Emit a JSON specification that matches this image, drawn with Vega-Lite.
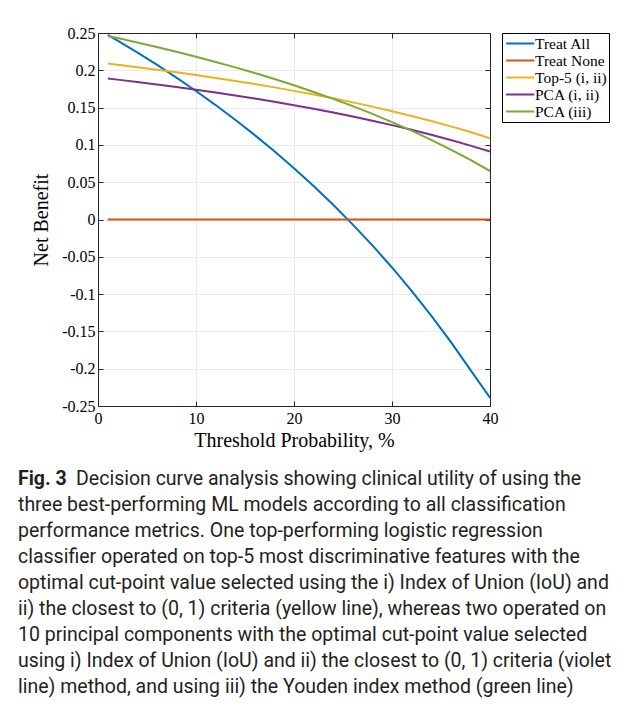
{
  "$schema": "https://vega.github.io/schema/vega-lite/v6.json",
  "width": 392,
  "height": 373,
  "autosize": {"type": "none"},
  "padding": {"left": 98, "top": 33, "right": 139, "bottom": 300},
  "background": "white",
  "data": {"values": [
    {"t": 1, "nb": 0.2475, "s": "Treat All"},
    {"t": 2, "nb": 0.2398, "s": "Treat All"},
    {"t": 4, "nb": 0.2240, "s": "Treat All"},
    {"t": 6, "nb": 0.2075, "s": "Treat All"},
    {"t": 8, "nb": 0.1902, "s": "Treat All"},
    {"t": 10, "nb": 0.1722, "s": "Treat All"},
    {"t": 12, "nb": 0.1534, "s": "Treat All"},
    {"t": 14, "nb": 0.1337, "s": "Treat All"},
    {"t": 16, "nb": 0.1131, "s": "Treat All"},
    {"t": 18, "nb": 0.0915, "s": "Treat All"},
    {"t": 20, "nb": 0.0688, "s": "Treat All"},
    {"t": 22, "nb": 0.0449, "s": "Treat All"},
    {"t": 24, "nb": 0.0197, "s": "Treat All"},
    {"t": 26, "nb": -0.0068, "s": "Treat All"},
    {"t": 28, "nb": -0.0347, "s": "Treat All"},
    {"t": 30, "nb": -0.0643, "s": "Treat All"},
    {"t": 32, "nb": -0.0956, "s": "Treat All"},
    {"t": 34, "nb": -0.1288, "s": "Treat All"},
    {"t": 36, "nb": -0.1641, "s": "Treat All"},
    {"t": 38, "nb": -0.2016, "s": "Treat All"},
    {"t": 40, "nb": -0.2390, "s": "Treat All"},
    {"t": 1, "nb": 0, "s": "Treat None"},
    {"t": 40, "nb": 0, "s": "Treat None"},
    {"t": 1, "nb": 0.2090, "s": "Top-5 (i, ii)"},
    {"t": 2, "nb": 0.2074, "s": "Top-5 (i, ii)"},
    {"t": 4, "nb": 0.2042, "s": "Top-5 (i, ii)"},
    {"t": 6, "nb": 0.2008, "s": "Top-5 (i, ii)"},
    {"t": 8, "nb": 0.1973, "s": "Top-5 (i, ii)"},
    {"t": 10, "nb": 0.1936, "s": "Top-5 (i, ii)"},
    {"t": 12, "nb": 0.1897, "s": "Top-5 (i, ii)"},
    {"t": 14, "nb": 0.1857, "s": "Top-5 (i, ii)"},
    {"t": 16, "nb": 0.1815, "s": "Top-5 (i, ii)"},
    {"t": 18, "nb": 0.1771, "s": "Top-5 (i, ii)"},
    {"t": 20, "nb": 0.1724, "s": "Top-5 (i, ii)"},
    {"t": 22, "nb": 0.1675, "s": "Top-5 (i, ii)"},
    {"t": 24, "nb": 0.1624, "s": "Top-5 (i, ii)"},
    {"t": 26, "nb": 0.1570, "s": "Top-5 (i, ii)"},
    {"t": 28, "nb": 0.1513, "s": "Top-5 (i, ii)"},
    {"t": 30, "nb": 0.1452, "s": "Top-5 (i, ii)"},
    {"t": 32, "nb": 0.1388, "s": "Top-5 (i, ii)"},
    {"t": 34, "nb": 0.1320, "s": "Top-5 (i, ii)"},
    {"t": 36, "nb": 0.1248, "s": "Top-5 (i, ii)"},
    {"t": 38, "nb": 0.1172, "s": "Top-5 (i, ii)"},
    {"t": 40, "nb": 0.1090, "s": "Top-5 (i, ii)"},
    {"t": 1, "nb": 0.1890, "s": "PCA (i, ii)"},
    {"t": 2, "nb": 0.1875, "s": "PCA (i, ii)"},
    {"t": 4, "nb": 0.1843, "s": "PCA (i, ii)"},
    {"t": 6, "nb": 0.1810, "s": "PCA (i, ii)"},
    {"t": 8, "nb": 0.1775, "s": "PCA (i, ii)"},
    {"t": 10, "nb": 0.1739, "s": "PCA (i, ii)"},
    {"t": 12, "nb": 0.1701, "s": "PCA (i, ii)"},
    {"t": 14, "nb": 0.1662, "s": "PCA (i, ii)"},
    {"t": 16, "nb": 0.1621, "s": "PCA (i, ii)"},
    {"t": 18, "nb": 0.1577, "s": "PCA (i, ii)"},
    {"t": 20, "nb": 0.1532, "s": "PCA (i, ii)"},
    {"t": 22, "nb": 0.1484, "s": "PCA (i, ii)"},
    {"t": 24, "nb": 0.1434, "s": "PCA (i, ii)"},
    {"t": 26, "nb": 0.1380, "s": "PCA (i, ii)"},
    {"t": 28, "nb": 0.1324, "s": "PCA (i, ii)"},
    {"t": 30, "nb": 0.1265, "s": "PCA (i, ii)"},
    {"t": 32, "nb": 0.1202, "s": "PCA (i, ii)"},
    {"t": 34, "nb": 0.1136, "s": "PCA (i, ii)"},
    {"t": 36, "nb": 0.1065, "s": "PCA (i, ii)"},
    {"t": 38, "nb": 0.0990, "s": "PCA (i, ii)"},
    {"t": 40, "nb": 0.0910, "s": "PCA (i, ii)"},
    {"t": 1, "nb": 0.2460, "s": "PCA (iii)"},
    {"t": 2, "nb": 0.2432, "s": "PCA (iii)"},
    {"t": 4, "nb": 0.2373, "s": "PCA (iii)"},
    {"t": 6, "nb": 0.2312, "s": "PCA (iii)"},
    {"t": 8, "nb": 0.2248, "s": "PCA (iii)"},
    {"t": 10, "nb": 0.2182, "s": "PCA (iii)"},
    {"t": 12, "nb": 0.2112, "s": "PCA (iii)"},
    {"t": 14, "nb": 0.2039, "s": "PCA (iii)"},
    {"t": 16, "nb": 0.1963, "s": "PCA (iii)"},
    {"t": 18, "nb": 0.1883, "s": "PCA (iii)"},
    {"t": 20, "nb": 0.1799, "s": "PCA (iii)"},
    {"t": 22, "nb": 0.1710, "s": "PCA (iii)"},
    {"t": 24, "nb": 0.1617, "s": "PCA (iii)"},
    {"t": 26, "nb": 0.1519, "s": "PCA (iii)"},
    {"t": 28, "nb": 0.1416, "s": "PCA (iii)"},
    {"t": 30, "nb": 0.1306, "s": "PCA (iii)"},
    {"t": 32, "nb": 0.1191, "s": "PCA (iii)"},
    {"t": 34, "nb": 0.1068, "s": "PCA (iii)"},
    {"t": 36, "nb": 0.0937, "s": "PCA (iii)"},
    {"t": 38, "nb": 0.0798, "s": "PCA (iii)"},
    {"t": 40, "nb": 0.0650, "s": "PCA (iii)"}
  ]},
  "title": {
    "text": "Fig. 3",
    "subtitle": [
      "\u200b\u00a0\u00a0\u00a0\u00a0\u00a0\u00a0\u00a0\u00a0\u00a0\u00a0\u00a0\u00a0Decision curve analysis showing clinical utility of using the",
      "three best-performing ML models according to all classification",
      "performance metrics. One top-performing logistic regression",
      "classifier operated on top-5 most discriminative features with the",
      "optimal cut-point value selected using the i) Index of Union (IoU) and",
      "ii) the closest to (0, 1) criteria (yellow line), whereas two operated on",
      "10 principal components with the optimal cut-point value selected",
      "using i) Index of Union (IoU) and ii) the closest to (0, 1) criteria (violet",
      "line) method, and using iii) the Youden index method (green line)"
    ],
    "orient": "bottom",
    "anchor": "start",
    "frame": "group",
    "dx": -80,
    "offset": 20,
    "font": "Roboto",
    "fontSize": 19.5,
    "fontWeight": "bold",
    "color": "#231f20",
    "subtitleFont": "Roboto",
    "subtitleFontSize": 19.5,
    "subtitleFontWeight": "normal",
    "subtitleColor": "#231f20",
    "subtitleLineHeight": 26,
    "subtitlePadding": -20
  },
  "layer": [
    {
      "mark": {"type": "line", "strokeWidth": 2, "clip": true},
      "encoding": {
        "x": {
          "field": "t", "type": "quantitative",
          "scale": {"domain": [0, 40], "nice": false},
          "axis": {"orient": "bottom", "values": [0, 10, 20, 30, 40], "title": "Threshold Probability, %", "grid": true, "tickSize": -5, "labelPadding": 9, "titlePadding": 4, "labelFlush": false, "labelOverlap": false}
        },
        "y": {
          "field": "nb", "type": "quantitative",
          "scale": {"domain": [-0.25, 0.25], "nice": false, "zero": false},
          "axis": {"orient": "left", "values": [-0.25, -0.2, -0.15, -0.1, -0.05, 0, 0.05, 0.1, 0.15, 0.2, 0.25], "title": "Net Benefit", "grid": true, "tickSize": -5, "labelPadding": 8, "titlePadding": 10, "labelFlush": false, "labelOverlap": false,
            "labelExpr": "replace(format(datum.value, '.2~f'), '\u2212', '-')"}
        },
        "color": {
          "field": "s", "type": "nominal",
          "scale": {
            "domain": ["Treat All", "Treat None", "Top-5 (i, ii)", "PCA (i, ii)", "PCA (iii)"],
            "range": ["#0072BD", "#D95319", "#EDB120", "#7E2F8E", "#77AC30"]
          },
          "legend": {"title": null}
        }
      }
    },
    {
      "mark": {"type": "line", "opacity": 0},
      "encoding": {
        "x": {
          "field": "t", "type": "quantitative",
          "axis": {"orient": "top", "values": [0, 10, 20, 30, 40], "labels": false, "title": null, "grid": false, "tickSize": -5}
        },
        "y": {
          "field": "nb", "type": "quantitative",
          "axis": {"orient": "right", "values": [-0.25, -0.2, -0.15, -0.1, -0.05, 0, 0.05, 0.1, 0.15, 0.2, 0.25], "labels": false, "title": null, "grid": false, "tickSize": -5}
        },
        "detail": {"field": "s", "type": "nominal"}
      }
    }
  ],
  "resolve": {"axis": {"x": "independent", "y": "independent"}},
  "config": {
    "view": {"stroke": null},
    "axis": {
      "labelFont": "Liberation Serif",
      "labelFontSize": 16,
      "labelColor": "#000",
      "titleFont": "Liberation Serif",
      "titleFontSize": 20,
      "titleFontWeight": "normal",
      "titleColor": "#000",
      "domainColor": "#262626",
      "domainWidth": 1,
      "tickColor": "#262626",
      "gridColor": "#ebebeb",
      "gridWidth": 1
    },
    "legend": {
      "orient": "right",
      "offset": 11,
      "strokeColor": "#000",
      "fillColor": "#fff",
      "padding": 2,
      "symbolType": "M-0.85,0H2.9",
      "symbolSize": 225,
      "symbolStrokeWidth": 2,
      "labelFont": "Liberation Serif",
      "labelFontSize": 15.5,
      "labelColor": "#000",
      "labelOffset": 14,
      "rowPadding": 0
    }
  }
}
